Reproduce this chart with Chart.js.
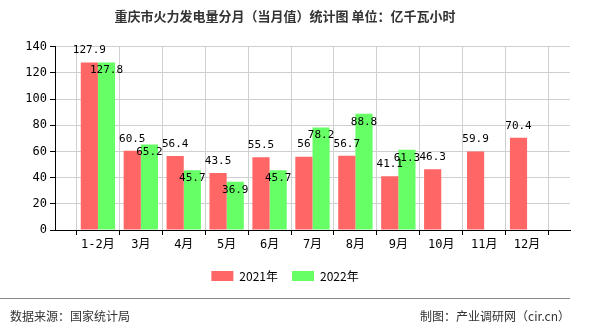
<!DOCTYPE html>
<html>
<head>
<meta charset="utf-8">
<script src="https://cdn.jsdelivr.net/npm/chart.js@4/dist/chart.umd.min.js"></script>
<style>
  body { margin: 0; background: #fff; }
  #wrap { width: 590px; height: 330px; position: relative; }
</style>
</head>
<body>
<div id="wrap"><canvas id="myChart"></canvas></div>
<script>
// categories and values
const months = ['1-2月', '3月', '4月', '5月', '6月', '7月', '8月', '9月', '10月', '11月', '12月'];
const v2021 = [127.9, 60.5, 56.4, 43.5, 55.5, 56, 56.7, 41.1, 46.3, 59.9, 70.4];
const v2022 = [127.8, 65.2, 45.7, 36.9, 45.7, 78.2, 88.8, 61.3, null, null, null];
const yTicks = [0, 20, 40, 60, 80, 100, 120, 140];

const monoFont = "'DejaVu Sans Mono', 'Noto Sans CJK SC', monospace";
const cjkFont = "'Noto Sans CJK SC', sans-serif";

// empty slots at both ends, like the original axis
const labels = [''].concat(months, ['']);
const pad = arr => [null].concat(arr, [null]);

// value labels over the bars
const valueLabels = {
    id: 'valueLabels',
    afterDatasetsDraw(chart) {
        const ctx = chart.ctx;
        ctx.save();
        ctx.font = '11px ' + monoFont;
        ctx.fillStyle = '#000';
        ctx.textAlign = 'center';
        ctx.textBaseline = 'middle';
        chart.data.datasets.forEach((ds, i) => {
            const meta = chart.getDatasetMeta(i);
            meta.data.forEach((bar, j) => {
                const v = ds.data[j];
                if (v === null || v === undefined) return;
                const dy = i === 0 ? -12 : 8;
                ctx.fillText(String(v), bar.x, bar.y + dy);
            });
        });
        ctx.restore();
    }
};

// source line at the bottom
const footer = {
    id: 'footer',
    afterDraw(chart) {
        const ctx = chart.ctx;
        ctx.save();
        ctx.strokeStyle = '#888';
        ctx.lineWidth = 1;
        ctx.beginPath();
        ctx.moveTo(0, 298.5);
        ctx.lineTo(570, 298.5);
        ctx.stroke();
        ctx.font = '12px ' + cjkFont;
        ctx.fillStyle = '#333';
        ctx.textBaseline = 'middle';
        ctx.textAlign = 'left';
        ctx.fillText('数据来源：国家统计局', 10, 316);
        ctx.textAlign = 'right';
        ctx.fillText('制图：产业调研网（cir.cn）', 570, 316);
        ctx.restore();
    }
};

const ctx1 = document.getElementById('myChart').getContext('2d');
const myChart = new Chart(ctx1, {
    type: 'bar',
    data: {
        labels: labels,
        datasets: [{
            label: '2021年',
            data: pad(v2021),
            backgroundColor: '#FF6666',
            barPercentage: 1,
            categoryPercentage: 0.8
        }, {
            label: '2022年',
            data: pad(v2022),
            backgroundColor: '#66FF66',
            barPercentage: 1,
            categoryPercentage: 0.8
        }]
    },
    options: {
        responsive: true,
        maintainAspectRatio: false,
        animation: false,
        layout: { padding: { left: 0, right: 20, top: 0, bottom: 38 } },
        plugins: {
            title: {
                display: true,
                text: '重庆市火力发电量分月（当月值）统计图 单位：亿千瓦小时',
                color: '#333',
                font: { size: 13, weight: 'bold', family: cjkFont },
                padding: { top: 8, bottom: 23 }
            },
            legend: {
                position: 'bottom',
                labels: {
                    boxWidth: 22,
                    boxHeight: 10,
                    color: '#000',
                    font: { size: 12, family: cjkFont },
                    padding: 14
                }
            },
            tooltip: { enabled: false }
        },
        scales: {
            x: {
                offset: false,
                grid: { color: '#d0d0d0', tickColor: '#000', tickLength: 5 },
                border: { color: '#000' },
                ticks: {
                    color: '#000',
                    font: { size: 12, family: monoFont },
                    maxRotation: 0,
                    autoSkip: false
                },
                afterFit: s => { s.height = 26; }
            },
            y: {
                min: 0,
                max: 140,
                afterBuildTicks: s => { s.ticks = yTicks.map(v => ({ value: v })); },
                grid: { color: '#d0d0d0', tickColor: '#000', tickLength: 5 },
                border: { color: '#000' },
                ticks: {
                    color: '#000',
                    font: { size: 12, family: monoFont },
                    padding: 3
                },
                afterFit: s => { s.width = 55; }
            }
        }
    },
    plugins: [valueLabels, footer]
});
</script>
</body>
</html>
